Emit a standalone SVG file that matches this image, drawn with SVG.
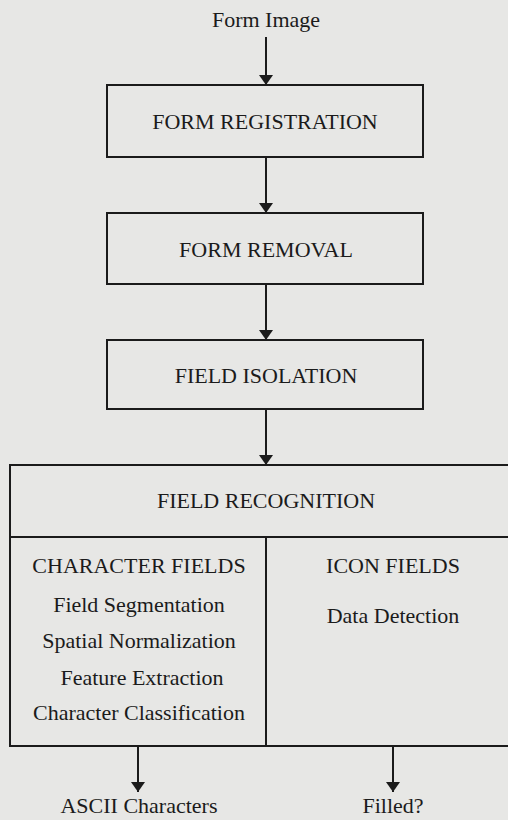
<svg xmlns="http://www.w3.org/2000/svg" width="508" height="820" viewBox="0 0 508 820">
<defs>
<style>
text{font-family:"Liberation Serif","Times New Roman",serif;font-size:22px;fill:#1b1b1b;text-anchor:middle}
.box{fill:none;stroke:#1b1b1b;stroke-width:2}
.conn{stroke:#1b1b1b;stroke-width:2;fill:none;marker-end:url(#ah)}
</style>
<marker id="ah" viewBox="0 0 10 14" refX="10" refY="7" markerWidth="10" markerHeight="14" markerUnits="userSpaceOnUse" orient="auto">
<path d="M0,0 L10,7 L0,14 Z" fill="#1b1b1b"/>
</marker>
</defs>
<rect width="508" height="820" fill="#e7e7e5"/>
<g id="connectors">
<line class="conn" x1="266" y1="37" x2="266" y2="85"/>
<line class="conn" x1="266" y1="157" x2="266" y2="213"/>
<line class="conn" x1="266" y1="284" x2="266" y2="340"/>
<line class="conn" x1="266" y1="409" x2="266" y2="465"/>
<line class="conn" x1="138" y1="746" x2="138" y2="792"/>
<line class="conn" x1="393" y1="746" x2="393" y2="792"/>
</g>
<g id="input"><text x="266" y="27">Form Image</text></g>
<g id="form-registration">
<rect class="box" x="107" y="85" width="316" height="72"/>
<text x="265" y="129">FORM REGISTRATION</text>
</g>
<g id="form-removal">
<rect class="box" x="107" y="213" width="316" height="71"/>
<text x="266" y="257">FORM REMOVAL</text>
</g>
<g id="field-isolation">
<rect class="box" x="107" y="340" width="316" height="69"/>
<text x="266" y="383">FIELD ISOLATION</text>
</g>
<g id="field-recognition">
<rect class="box" x="10" y="465" width="510" height="281"/>
<line class="box" x1="10" y1="537" x2="520" y2="537"/>
<line class="box" x1="266" y1="537" x2="266" y2="746"/>
<text x="266" y="508">FIELD RECOGNITION</text>
</g>
<g id="character-fields">
<text x="139" y="573">CHARACTER FIELDS</text>
<text x="139" y="612">Field Segmentation</text>
<text x="139" y="648">Spatial Normalization</text>
<text x="142" y="685">Feature Extraction</text>
<text x="139" y="720">Character Classification</text>
</g>
<g id="icon-fields">
<text x="393" y="573">ICON FIELDS</text>
<text x="393" y="623">Data Detection</text>
</g>
<g id="outputs">
<text x="139" y="813">ASCII Characters</text>
<text x="393" y="813">Filled?</text>
</g>
</svg>
